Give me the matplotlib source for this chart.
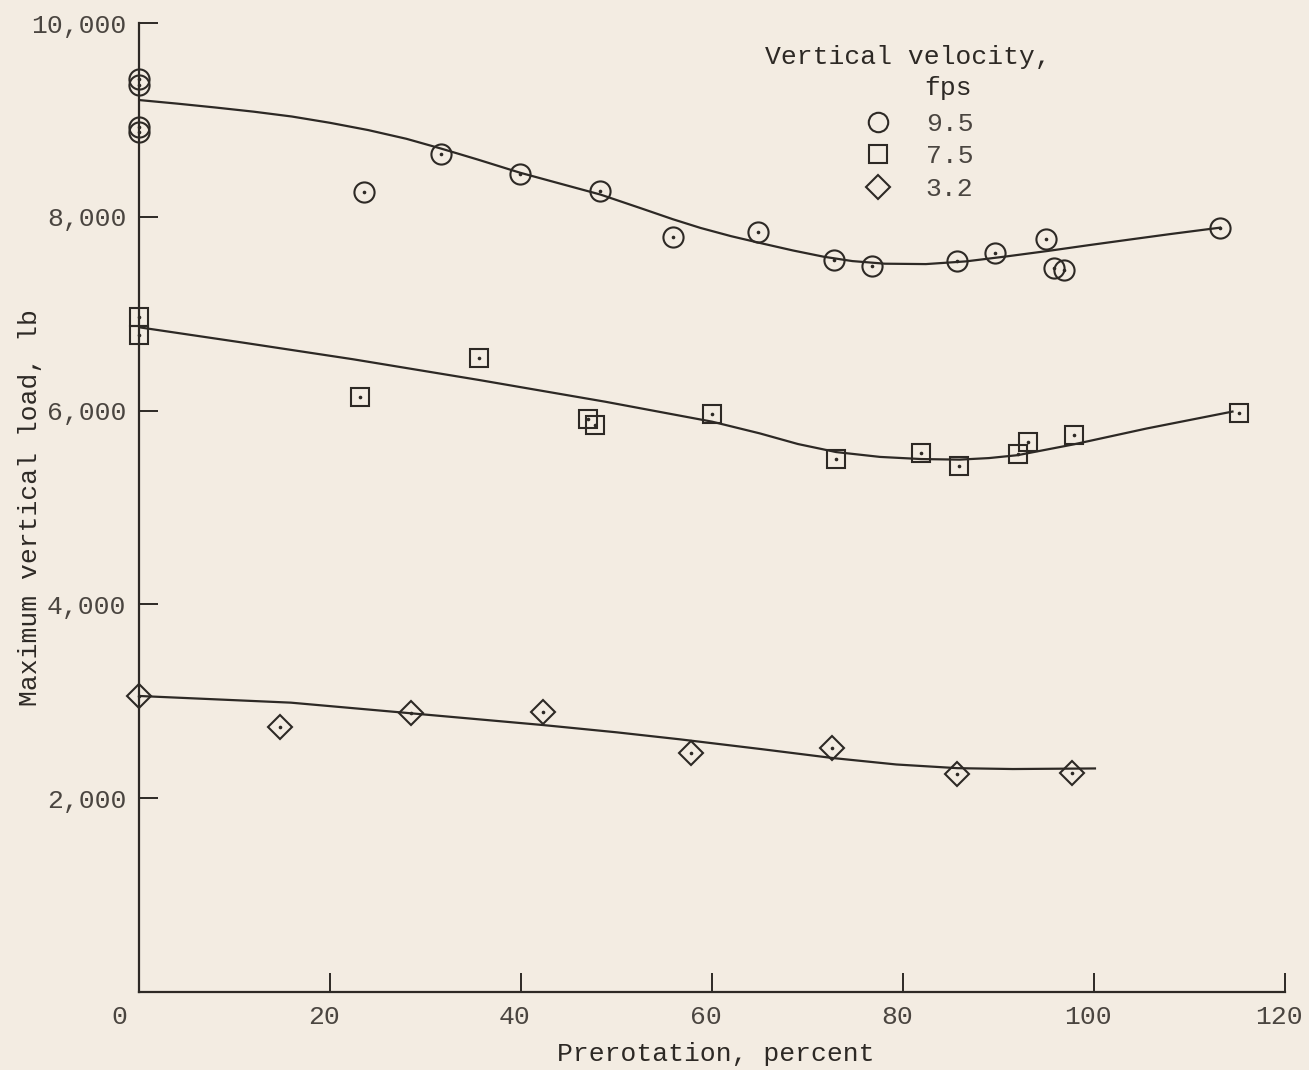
import matplotlib
matplotlib.use("Agg")
import matplotlib.pyplot as plt
import matplotlib.transforms as mtransforms
from matplotlib.lines import Line2D
from matplotlib.ticker import FuncFormatter

# test points, vertical velocity 9.5 fps
circle_x = [0, 0, 0, 0, 23.6, 31.6, 39.9, 48.3, 55.9, 64.8, 72.8, 76.8, 85.7, 89.6, 95.0, 95.8, 96.9, 113.2]
circle_y = [9419, 9360, 8930, 8878, 8253, 8648, 8439, 8266, 7792, 7846, 7554, 7492, 7547, 7630, 7774, 7469, 7451, 7888]
# faired curve 9.5 fps
circle_fit_x = [0, 4, 8, 12, 16, 20, 24, 28, 31.6, 35.5, 39.9, 44, 48.3, 52.5, 55.9, 58.8, 62, 65.2, 68.5, 71.7, 74.7, 78.1, 82.4, 86.6, 90.9, 95.2, 99.5, 103.8, 108, 113.2]
circle_fit_y = [9205, 9168, 9128, 9085, 9035, 8970, 8895, 8805, 8705, 8590, 8455, 8345, 8230, 8090, 7975, 7885, 7800, 7726, 7652, 7588, 7543, 7516, 7512, 7540, 7592, 7648, 7708, 7766, 7822, 7888]

# 7.5 fps
square_x = [0, 0, 23.1, 35.6, 47.0, 47.7, 60.0, 73.0, 81.9, 85.9, 92.0, 93.1, 97.9, 115.2]
square_y = [6969, 6780, 6144, 6540, 5910, 5851, 5965, 5501, 5559, 5431, 5552, 5676, 5745, 5972]
square_fit_x = [0, 11, 22.4, 35.6, 48.8, 60.0, 65.0, 69, 73.0, 77.6, 81.9, 85.9, 89, 92.0, 97.9, 105.5, 114.5]
square_fit_y = [6860, 6700, 6530, 6316, 6092, 5886, 5765, 5655, 5572, 5522, 5500, 5494, 5510, 5540, 5652, 5815, 5990]

# 3.2 fps
diamond_x = [0, 14.8, 28.5, 42.3, 57.8, 72.6, 85.7, 97.7]
diamond_y = [3055, 2738, 2876, 2893, 2470, 2521, 2250, 2257]
diamond_fit_x = [0, 15.9, 28.5, 42.3, 50, 56.6, 65.3, 72.6, 79.3, 85.7, 91.5, 100.1]
diamond_fit_y = [3055, 2986, 2876, 2755, 2680, 2608, 2505, 2415, 2348, 2310, 2301, 2307]

legend_labels = ["9.5", "7.5", "3.2"]
x_ticks = [0, 20, 40, 60, 80, 100, 120]
y_ticks = [2000, 4000, 6000, 8000, 10000]

bg = "#f3ece2"
ink = "#2d2925"
mono = ["Liberation Mono", "DejaVu Sans Mono"]

fig = plt.figure(figsize=(13.09, 10.70), dpi=100, facecolor=bg)
ax = fig.add_axes([139 / 1309, 1 - 992 / 1070, 1146 / 1309, 969 / 1070])
ax.set_facecolor(bg)

ax.plot(circle_fit_x, circle_fit_y, color=ink, lw=1.6)
ax.plot(square_fit_x, square_fit_y, color=ink, lw=1.6)
ax.plot(diamond_fit_x, diamond_fit_y, color=ink, lw=1.6)

mk = dict(ls="none", mfc="none", mec=ink, mew=1.5, clip_on=False, zorder=3)
ax.plot(circle_x, circle_y, marker="o", ms=14.5, **mk)
ax.plot(square_x, square_y, marker="s", ms=12.5, **mk)
ax.plot(diamond_x, diamond_y, marker="D", ms=12.5, **mk)
# little centre dots of the plotted points
for xs, ys in [(circle_x, circle_y), (square_x, square_y), (diamond_x, diamond_y)]:
    ax.plot(xs, ys, ls="none", marker="o", ms=1.6, color=ink, clip_on=False, zorder=4)

ax.set_xlim(0, 120)
ax.set_ylim(0, 10000)
ax.set_xticks(x_ticks)
ax.set_yticks(y_ticks)
ax.yaxis.set_major_formatter(FuncFormatter(lambda v, p: f"{int(v):,}"))

for s in ["top", "right"]:
    ax.spines[s].set_visible(False)
for s in ["left", "bottom"]:
    ax.spines[s].set_color(ink)
    ax.spines[s].set_linewidth(1.6)

ax.tick_params(direction="in", length=14, width=1.4, color=ink,
               labelsize=19, labelcolor="#4a4540", pad=9)
for lab in ax.get_xticklabels() + ax.get_yticklabels():
    lab.set_family(mono)

# x tick labels sit a little left of their ticks in the original
for lab, t in zip(ax.get_xticklabels(), x_ticks):
    dx = -20 if t == 0 else -6
    lab.set_transform(lab.get_transform() + mtransforms.ScaledTranslation(dx / 100, 0, fig.dpi_scale_trans))

ax.set_xlabel("Prerotation, percent", family=mono, fontsize=19, color=ink)
ax.set_ylabel("Maximum vertical load, lb", family=mono, fontsize=19, color=ink)
ax.xaxis.set_label_coords(0.503, -0.052)
ax.yaxis.set_label_coords(-0.085, 0.5)

# legend
ax.text(0.546, 0.965, "Vertical velocity,", transform=ax.transAxes, family=mono,
        fontsize=19, color=ink, ha="left", va="center")
ax.text(0.706, 0.933, "fps", transform=ax.transAxes, family=mono,
        fontsize=19, color=ink, ha="center", va="center")
handles = [Line2D([], [], ls="none", marker=m, ms=s, mfc="none", mec=ink, mew=1.5)
           for m, s in [("o", 14), ("s", 12.5), ("D", 12.5)]]
leg = ax.legend(handles, legend_labels, loc="upper left", bbox_to_anchor=(0.622, 0.922),
                frameon=False, borderpad=0, handlelength=1.0, handletextpad=1.3,
                labelspacing=0.33, prop={"family": mono, "size": 19})
for t in leg.get_texts():
    t.set_color("#4a4540")

fig.savefig("out.png", dpi=100, facecolor=bg)
